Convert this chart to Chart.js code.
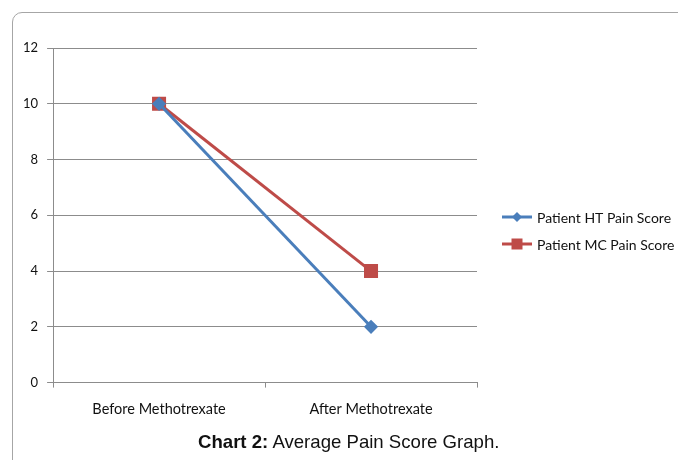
<!DOCTYPE html>
<html>
<head>
<meta charset="utf-8">
<script src="https://cdn.jsdelivr.net/npm/chart.js@4"></script>
<style>
    body { margin: 0; background: #fff; }
    #wrap { position: relative; width: 678px; height: 460px; overflow: hidden; }
    #frame {
        position: absolute; left: 12px; top: 12px; width: 720px; height: 520px;
        border: 1px solid #a6a6a6; border-top-left-radius: 10px;
    }
    #chart { position: absolute; left: 0; top: 0; }
    #caption {
        position: absolute; left: 198px; top: 431px;
        font-family: "Liberation Sans", Arial, sans-serif; font-size: 18.6px; color: #111;
    }
</style>
</head>
<body>
<div id="wrap">
    <div id="frame"></div>
    <canvas id="chart" width="678" height="460"></canvas>
    <div id="caption"><b>Chart 2:</b> Average Pain Score Graph.</div>
</div>
<script>
const categories = ["Before Methotrexate", "After Methotrexate"];
const htScores = [10, 2];
const mcScores = [10, 4];
const seriesNames = ["Patient HT Pain Score", "Patient MC Pain Score"];

const blue = '#4a7ebb';
const red = '#be4b48';
const gridColor = '#8c8c8c';

// legend drawn by hand (built-in one gets squeezed to a quarter of the width)
const sideLegend = {
    id: 'sideLegend',
    afterDraw(chart) {
        const c = chart.ctx;
        const rows = [217, 244];
        c.save();
        chart.data.datasets.forEach((ds, i) => {
            const y = rows[i];
            c.strokeStyle = ds.borderColor;
            c.lineWidth = 3;
            c.beginPath(); c.moveTo(502, y); c.lineTo(532, y); c.stroke();
            c.fillStyle = ds.borderColor;
            c.beginPath();
            if (ds.pointStyle === 'rectRot') {
                c.moveTo(517, y - 5); c.lineTo(522, y); c.lineTo(517, y + 5); c.lineTo(512, y);
            } else {
                c.rect(511.5, y - 5.5, 11, 11);
            }
            c.fill();
            c.fillStyle = '#111';
            c.font = '14px Lato';
            c.textBaseline = 'middle';
            c.textAlign = 'left';
            c.fillText(ds.label, 537, y + 1);
        });
        c.restore();
    }
};

const ctx = document.getElementById('chart').getContext('2d');
new Chart(ctx, {
    type: 'line',
    data: {
        labels: categories,
        datasets: [{
            label: seriesNames[0],
            data: htScores,
            borderColor: blue,
            backgroundColor: blue,
            borderWidth: 3,
            pointStyle: 'rectRot',
            pointRadius: 5,
            pointHoverRadius: 5
        }, {
            label: seriesNames[1],
            data: mcScores,
            borderColor: red,
            backgroundColor: red,
            borderWidth: 3,
            pointStyle: 'rect',
            pointRadius: 7.8,
            pointHoverRadius: 7.8
        }]
    },
    options: {
        responsive: false,
        animation: false,
        layout: {
            padding: { left: 14, top: 48, right: 201, bottom: 29 }
        },
        scales: {
            x: {
                offset: true,
                grid: {
                    display: true,
                    offset: true,
                    drawOnChartArea: false,
                    drawTicks: true,
                    tickLength: 5,
                    color: gridColor
                },
                border: { display: true, color: gridColor },
                ticks: {
                    color: '#111',
                    padding: 13,
                    font: { family: 'Lato', size: 14.5 }
                }
            },
            y: {
                min: 0,
                max: 12,
                ticks: {
                    stepSize: 2,
                    color: '#111',
                    padding: 9,
                    font: { family: 'Lato', size: 13 }
                },
                grid: { color: gridColor, tickLength: 6 },
                border: { display: true, color: gridColor }
            }
        },
        plugins: {
            tooltip: { enabled: false },
            legend: { display: false }
        }
    },
    plugins: [sideLegend]
});
</script>
</body>
</html>
